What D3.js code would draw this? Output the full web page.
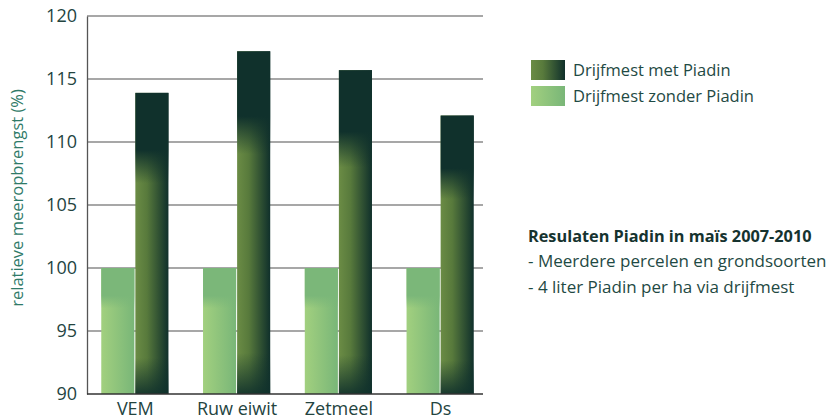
<!DOCTYPE html>
<html>
<head>
<meta charset="utf-8">
<script src="https://cdn.jsdelivr.net/npm/d3@7"></script>
<style>
  body { margin: 0; background: #fff; }
  text { font-family: "Open Sans", "Noto Sans", sans-serif; }
</style>
</head>
<body>
<svg id="chart" width="831" height="419"></svg>
<script>
const CATEGORIES = ['VEM', 'Ruw eiwit', 'Zetmeel', 'Ds'];
const MET_PIADIN = [113.9, 117.2, 115.7, 112.1];
const ZONDER_PIADIN = [100, 100, 100, 100];
const Y_TICKS = [90, 95, 100, 105, 110, 115, 120];
const SERIES = ['Drijfmest zonder Piadin', 'Drijfmest met Piadin'];
const NOTE_TITLE = 'Resulaten Piadin in maïs 2007-2010';
const NOTE_LINES = ['- Meerdere percelen en grondsoorten', '- 4 liter Piadin per ha via drijfmest'];

let svg = d3.select('#chart'),
  plotLeft = 87, plotRight = 483, plotTop = 16, plotBottom = 394;

let defs = svg.append('defs');

function grad(id, stops, vertical) {
  let g = defs.append('linearGradient').attr('id', id)
    .attr('x1', 0).attr('y1', 0)
    .attr('x2', vertical ? 0 : 1).attr('y2', vertical ? 1 : 0);
  stops.forEach(function (s) {
    g.append('stop').attr('offset', s[0]).attr('stop-color', s[1])
      .attr('stop-opacity', s[2] === undefined ? 1 : s[2]);
  });
}
grad('darkH', [[0, '#6b8c45'], [0.35, '#587a3c'], [1, '#10302b']]);
grad('darkV', [[0, '#10312c', 1], [0.19, '#10312c', 1], [0.3, '#10312c', 0], [0.88, '#10312c', 0], [1, '#10312c', 0.9]], true);
grad('lightH', [[0, '#a2d07f'], [1, '#79b678']]);
grad('lightV', [[0, '#7bb779', 1], [0.22, '#7bb779', 1], [0.32, '#7bb779', 0], [1, '#7bb779', 0]], true);

let y = d3.scaleLinear().domain([90, 120]).range([plotBottom, plotTop]);
let x = d3.scaleBand().domain(CATEGORIES).range([86, 490]).paddingInner(0.33).paddingOuter(0.15);
let xs = d3.scaleBand().domain(SERIES).range([0, x.bandwidth()]);

/*
 * gridlines and axes
 */
svg.append('g').selectAll('line')
  .data(Y_TICKS.slice(1))
  .enter()
  .append('line')
  .attr('x1', plotLeft).attr('x2', plotRight)
  .attr('y1', function (d) { return y(d); })
  .attr('y2', function (d) { return y(d); })
  .attr('stroke', '#8a8a8a').attr('stroke-width', 1.3);

let yAxis = svg.append('g')
  .attr('transform', 'translate(' + plotLeft + ',0)')
  .call(d3.axisLeft(y).tickValues(Y_TICKS).tickSize(0).tickPadding(10));
yAxis.select('.domain').attr('stroke', '#555').attr('stroke-width', 1.3);
yAxis.selectAll('text').attr('font-size', 18).attr('fill', '#24443f');

/*
 * bars
 */
let groups = svg.append('g').selectAll('g')
  .data(CATEGORIES)
  .enter()
  .append('g')
  .attr('transform', function (d) { return 'translate(' + x(d) + ',0)'; });

function drawBars(values, series, fillH, fillV) {
  groups.append('rect')
    .attr('x', xs(series))
    .attr('y', function (d, i) { return y(values[i]); })
    .attr('width', xs.bandwidth() - 1)
    .attr('height', function (d, i) { return y(90) - y(values[i]); })
    .attr('fill', 'url(#' + fillH + ')');
  groups.append('rect')
    .attr('x', xs(series))
    .attr('y', function (d, i) { return y(values[i]); })
    .attr('width', xs.bandwidth() - 1)
    .attr('height', function (d, i) { return y(90) - y(values[i]); })
    .attr('fill', 'url(#' + fillV + ')');
}
drawBars(ZONDER_PIADIN, SERIES[0], 'lightH', 'lightV');
drawBars(MET_PIADIN, SERIES[1], 'darkH', 'darkV');

svg.append('line')
  .attr('x1', plotLeft).attr('x2', plotRight)
  .attr('y1', plotBottom).attr('y2', plotBottom)
  .attr('stroke', '#333').attr('stroke-width', 1.5);

svg.append('g').selectAll('text')
  .data(CATEGORIES)
  .enter()
  .append('text')
  .text(function (d) { return d; })
  .attr('x', function (d) { return x(d) + x.bandwidth() / 2; })
  .attr('y', 415)
  .attr('text-anchor', 'middle')
  .attr('font-size', 18)
  .attr('fill', '#24443f');

svg.append('text')
  .text('relatieve meeropbrengst (%)')
  .attr('transform', 'translate(23,198) rotate(-90)')
  .attr('text-anchor', 'middle')
  .attr('font-size', 16.5)
  .attr('fill', '#2f7a68');

/*
 * legend
 */
let legend = svg.append('g').selectAll('g')
  .data(SERIES.slice().reverse())
  .enter()
  .append('g')
  .attr('transform', function (d, i) { return 'translate(531,' + (60 + i * 26) + ')'; });
legend.append('rect')
  .attr('width', 34).attr('height', 20)
  .attr('fill', function (d, i) { return i === 0 ? 'url(#darkH)' : 'url(#lightH)'; });
legend.append('text')
  .text(function (d) { return d; })
  .attr('x', 42).attr('y', 16)
  .attr('font-size', 16.5)
  .attr('fill', '#1f4a44');

svg.append('text')
  .text(NOTE_TITLE)
  .attr('x', 528).attr('y', 242)
  .attr('font-size', 16.3).attr('font-weight', 'bold')
  .attr('fill', '#16332f');
svg.append('g').selectAll('text')
  .data(NOTE_LINES)
  .enter()
  .append('text')
  .text(function (d) { return d; })
  .attr('x', 528)
  .attr('y', function (d, i) { return 267 + i * 26; })
  .attr('font-size', 17)
  .attr('fill', '#1f4a44');
</script>
</body>
</html>
